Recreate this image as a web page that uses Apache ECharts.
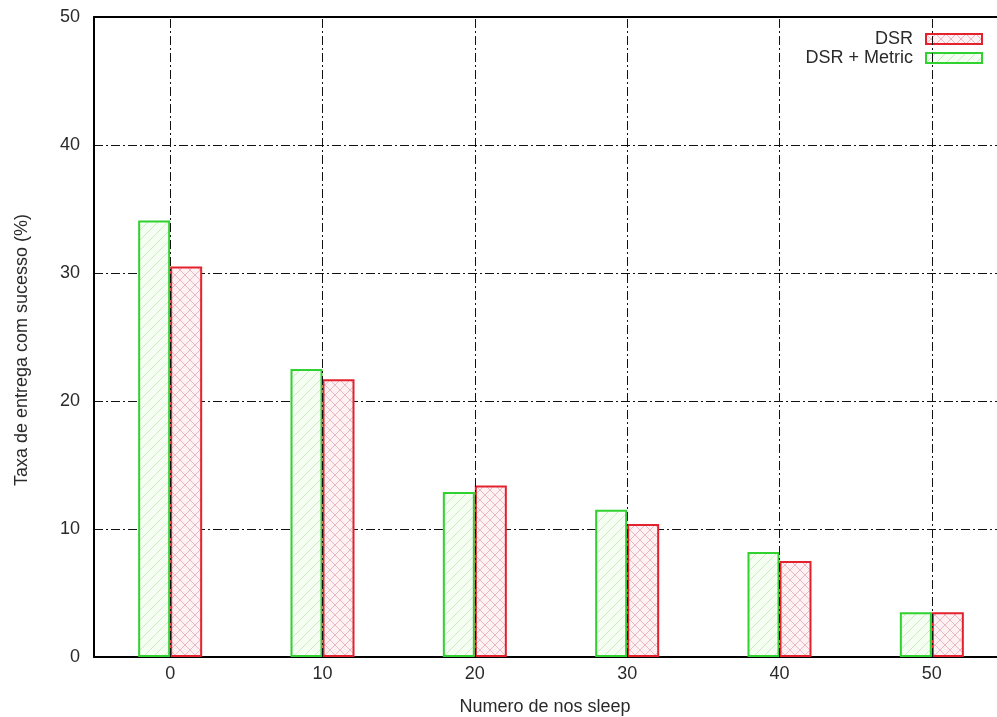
<!DOCTYPE html>
<html>
<head>
<meta charset="utf-8">
<script src="https://cdn.jsdelivr.net/npm/echarts@6/dist/echarts.min.js"></script>
<style>
  html, body { margin: 0; padding: 0; background: #fff; }
  #chart { width: 997px; height: 717px; }
</style>
</head>
<body>
<div id="chart"></div>
<script>
// data
var categories = ['0', '10', '20', '30', '40', '50'];
var dsrMetric = [34.1, 22.5, 12.9, 11.5, 8.2, 3.5];
var dsr = [30.5, 21.7, 13.4, 10.4, 7.5, 3.5];

// small hatch tiles, gnuplot style
function hatch(stroke, bg, cross) {
	var c = document.createElement('canvas');
	c.width = 10; c.height = 10;
	var g = c.getContext('2d');
	g.fillStyle = bg;
	g.fillRect(0, 0, 10, 10);
	g.strokeStyle = stroke;
	g.lineWidth = 1;
	g.beginPath();
	g.moveTo(0, 10); g.lineTo(10, 0);
	g.moveTo(-5, 5); g.lineTo(5, -5);
	g.moveTo(5, 15); g.lineTo(15, 5);
	if (cross) {
		g.moveTo(0, 0); g.lineTo(10, 10);
		g.moveTo(-5, 5); g.lineTo(5, 15);
		g.moveTo(5, -5); g.lineTo(15, 5);
	}
	g.stroke();
	return c;
}

var gridLine = { color: '#111', width: 1, type: [9, 3, 2, 3] };
var font = 'Liberation Sans, Arial, sans-serif';

var chart = echarts.init(document.getElementById('chart'));

var option = {
	animation: false,
	backgroundColor: '#fff',
	// plot box runs past the right edge of the picture, as in the original
	grid: { left: 94, top: 17, width: 914, height: 640, outerBoundsMode: 'none', containLabel: false },
	legend: {
		orient: 'vertical',
		right: 9,
		top: 25,
		align: 'right',
		icon: 'rect',
		itemWidth: 56,
		itemHeight: 10,
		itemGap: 1,
		textStyle: { fontFamily: font, fontSize: 18, color: '#2a2a2a', padding: [0, 8, 0, 0] },
		data: ['DSR', 'DSR + Metric']
	},
	xAxis: [{
		type: 'category',
		data: categories,
		name: 'Numero de nos sleep',
		nameLocation: 'middle',
		nameGap: 41,
		nameTextStyle: { fontFamily: font, fontSize: 18, color: '#2a2a2a', padding: [0, 12, 0, 0] },
		axisLine: { lineStyle: { color: '#000', width: 2 } },
		axisTick: { alignWithLabel: true, inside: true, length: 6, lineStyle: { color: '#000' } },
		axisLabel: { fontFamily: font, fontSize: 18, color: '#2a2a2a', margin: 8 },
		splitLine: { show: false }
	}, {
		type: 'category',
		data: categories,
		position: 'top',
		axisLine: { lineStyle: { color: '#000', width: 2 } },
		axisTick: { alignWithLabel: true, inside: true, length: 6, lineStyle: { color: '#000' } },
		axisLabel: { show: false },
		splitLine: { show: false }
	}],
	yAxis: {
		type: 'value',
		min: 0,
		max: 50,
		interval: 10,
		name: 'Taxa de entrega com sucesso (%)',
		nameLocation: 'middle',
		nameGap: 63,
		nameTextStyle: { fontFamily: font, fontSize: 18, color: '#2a2a2a', padding: [0, 26, 0, 0] },
		axisLine: { show: true, lineStyle: { color: '#000', width: 2 } },
		axisTick: { inside: true, length: 6, lineStyle: { color: '#000' } },
		axisLabel: { fontFamily: font, fontSize: 18, color: '#2a2a2a', margin: 14 },
		splitLine: { lineStyle: gridLine }
	},
	series: [{
		name: 'DSR + Metric',
		type: 'bar',
		barWidth: 32,
		barGap: '0%',
		data: dsrMetric,
		itemStyle: {
			color: { image: hatch('#c8ecc0', '#f6fdf3', false), repeat: 'repeat' },
			borderColor: '#2fd22f',
			borderWidth: 2
		}
	}, {
		name: 'DSR',
		type: 'bar',
		barWidth: 32,
		barGap: '0%',
		data: dsr,
		itemStyle: {
			color: { image: hatch('#eab8c0', '#fdf1f3', true), repeat: 'repeat' },
			borderColor: '#e3222e',
			borderWidth: 2
		}
	}, {
		// vertical grid lines at the category centres
		name: 'grid',
		type: 'line',
		data: [],
		z: 3,
		markLine: {
			silent: true,
			symbol: 'none',
			label: { show: false },
			lineStyle: gridLine,
			data: categories.map(function (c) { return { xAxis: c }; })
		}
	}]
};

chart.setOption(option);
</script>
</body>
</html>
